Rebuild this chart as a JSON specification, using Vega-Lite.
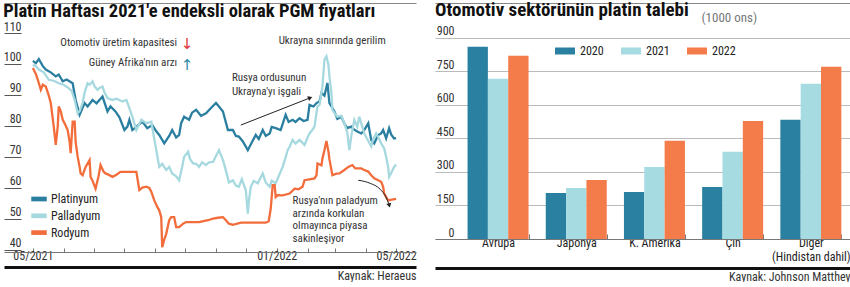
{
  "$schema": "https://vega.github.io/schema/vega-lite/v6.json",
  "padding": {"left": 3, "top": 0, "right": 0, "bottom": 0},
  "background": "white",
  "spacing": 18,
  "resolve": {"scale": {"color": "independent"}, "legend": {"color": "independent"}},
  "config": {
    "view": {"stroke": null},
    "font": "Roboto Condensed, Roboto, sans-serif"
  },
  "datasets": {
    "prices": [
      {"date":"2021-05-01","metal":"Platinyum","value":101.0},
      {"date":"2021-05-04","metal":"Platinyum","value":100.3},
      {"date":"2021-05-07","metal":"Platinyum","value":101.6},
      {"date":"2021-05-11","metal":"Platinyum","value":99.3},
      {"date":"2021-05-14","metal":"Platinyum","value":98.2},
      {"date":"2021-05-19","metal":"Platinyum","value":97.3},
      {"date":"2021-05-24","metal":"Platinyum","value":96.0},
      {"date":"2021-05-27","metal":"Platinyum","value":96.6},
      {"date":"2021-05-31","metal":"Platinyum","value":94.4},
      {"date":"2021-06-04","metal":"Platinyum","value":95.0},
      {"date":"2021-06-10","metal":"Platinyum","value":93.8},
      {"date":"2021-06-13","metal":"Platinyum","value":88.4},
      {"date":"2021-06-17","metal":"Platinyum","value":83.6},
      {"date":"2021-06-22","metal":"Platinyum","value":87.4},
      {"date":"2021-06-25","metal":"Platinyum","value":86.3},
      {"date":"2021-06-30","metal":"Platinyum","value":88.4},
      {"date":"2021-07-04","metal":"Platinyum","value":87.3},
      {"date":"2021-07-10","metal":"Platinyum","value":89.5},
      {"date":"2021-07-15","metal":"Platinyum","value":84.7},
      {"date":"2021-07-18","metal":"Platinyum","value":86.3},
      {"date":"2021-07-23","metal":"Platinyum","value":84.7},
      {"date":"2021-07-27","metal":"Platinyum","value":82.8},
      {"date":"2021-08-01","metal":"Platinyum","value":78.7},
      {"date":"2021-08-04","metal":"Platinyum","value":79.8},
      {"date":"2021-08-06","metal":"Platinyum","value":82.0},
      {"date":"2021-08-09","metal":"Platinyum","value":78.7},
      {"date":"2021-08-15","metal":"Platinyum","value":80.3},
      {"date":"2021-08-19","metal":"Platinyum","value":81.4},
      {"date":"2021-08-24","metal":"Platinyum","value":79.3},
      {"date":"2021-08-29","metal":"Platinyum","value":80.3},
      {"date":"2021-09-02","metal":"Platinyum","value":78.3},
      {"date":"2021-09-05","metal":"Platinyum","value":77.1},
      {"date":"2021-09-10","metal":"Platinyum","value":74.4},
      {"date":"2021-09-15","metal":"Platinyum","value":76.8},
      {"date":"2021-09-18","metal":"Platinyum","value":78.7},
      {"date":"2021-09-22","metal":"Platinyum","value":76.3},
      {"date":"2021-09-25","metal":"Platinyum","value":77.1},
      {"date":"2021-09-27","metal":"Platinyum","value":80.9},
      {"date":"2021-09-30","metal":"Platinyum","value":83.0},
      {"date":"2021-10-05","metal":"Platinyum","value":82.0},
      {"date":"2021-10-08","metal":"Platinyum","value":84.3},
      {"date":"2021-10-12","metal":"Platinyum","value":85.2},
      {"date":"2021-10-17","metal":"Platinyum","value":83.3},
      {"date":"2021-10-22","metal":"Platinyum","value":84.1},
      {"date":"2021-10-27","metal":"Platinyum","value":85.8},
      {"date":"2021-11-01","metal":"Platinyum","value":87.4},
      {"date":"2021-11-04","metal":"Platinyum","value":86.3},
      {"date":"2021-11-08","metal":"Platinyum","value":84.7},
      {"date":"2021-11-13","metal":"Platinyum","value":78.7},
      {"date":"2021-11-18","metal":"Platinyum","value":78.7},
      {"date":"2021-11-21","metal":"Platinyum","value":76.8},
      {"date":"2021-11-24","metal":"Platinyum","value":76.6},
      {"date":"2021-11-28","metal":"Platinyum","value":75.0},
      {"date":"2021-12-03","metal":"Platinyum","value":72.2},
      {"date":"2021-12-04","metal":"Platinyum","value":72.8},
      {"date":"2021-12-08","metal":"Platinyum","value":75.3},
      {"date":"2021-12-11","metal":"Platinyum","value":77.1},
      {"date":"2021-12-14","metal":"Platinyum","value":75.8},
      {"date":"2021-12-18","metal":"Platinyum","value":78.7},
      {"date":"2021-12-21","metal":"Platinyum","value":76.8},
      {"date":"2021-12-25","metal":"Platinyum","value":77.6},
      {"date":"2021-12-27","metal":"Platinyum","value":79.7},
      {"date":"2021-12-31","metal":"Platinyum","value":79.3},
      {"date":"2022-01-05","metal":"Platinyum","value":78.7},
      {"date":"2022-01-10","metal":"Platinyum","value":83.6},
      {"date":"2022-01-13","metal":"Platinyum","value":81.3},
      {"date":"2022-01-17","metal":"Platinyum","value":82.0},
      {"date":"2022-01-20","metal":"Platinyum","value":81.3},
      {"date":"2022-01-24","metal":"Platinyum","value":82.5},
      {"date":"2022-01-28","metal":"Platinyum","value":81.6},
      {"date":"2022-02-01","metal":"Platinyum","value":82.0},
      {"date":"2022-02-03","metal":"Platinyum","value":86.8},
      {"date":"2022-02-07","metal":"Platinyum","value":86.3},
      {"date":"2022-02-10","metal":"Platinyum","value":87.4},
      {"date":"2022-02-13","metal":"Platinyum","value":87.9},
      {"date":"2022-02-15","metal":"Platinyum","value":90.6},
      {"date":"2022-02-18","metal":"Platinyum","value":89.8},
      {"date":"2022-02-21","metal":"Platinyum","value":93.9},
      {"date":"2022-02-23","metal":"Platinyum","value":87.4},
      {"date":"2022-02-26","metal":"Platinyum","value":85.8},
      {"date":"2022-02-28","metal":"Platinyum","value":84.7},
      {"date":"2022-03-03","metal":"Platinyum","value":82.3},
      {"date":"2022-03-07","metal":"Platinyum","value":83.0},
      {"date":"2022-03-10","metal":"Platinyum","value":80.8},
      {"date":"2022-03-13","metal":"Platinyum","value":79.3},
      {"date":"2022-03-17","metal":"Platinyum","value":79.8},
      {"date":"2022-03-20","metal":"Platinyum","value":78.8},
      {"date":"2022-03-23","metal":"Platinyum","value":78.2},
      {"date":"2022-03-27","metal":"Platinyum","value":77.6},
      {"date":"2022-03-30","metal":"Platinyum","value":78.7},
      {"date":"2022-04-03","metal":"Platinyum","value":80.9},
      {"date":"2022-04-06","metal":"Platinyum","value":75.5},
      {"date":"2022-04-09","metal":"Platinyum","value":74.4},
      {"date":"2022-04-13","metal":"Platinyum","value":77.1},
      {"date":"2022-04-16","metal":"Platinyum","value":77.6},
      {"date":"2022-04-18","metal":"Platinyum","value":78.7},
      {"date":"2022-04-21","metal":"Platinyum","value":76.0},
      {"date":"2022-04-24","metal":"Platinyum","value":79.3},
      {"date":"2022-04-26","metal":"Platinyum","value":77.3},
      {"date":"2022-04-29","metal":"Platinyum","value":76.0},
      {"date":"2022-05-01","metal":"Platinyum","value":76.1},
      {"date":"2021-05-01","metal":"Palladyum","value":99.8},
      {"date":"2021-05-04","metal":"Palladyum","value":99.3},
      {"date":"2021-05-07","metal":"Palladyum","value":98.2},
      {"date":"2021-05-12","metal":"Palladyum","value":97.3},
      {"date":"2021-05-17","metal":"Palladyum","value":94.9},
      {"date":"2021-05-22","metal":"Palladyum","value":94.6},
      {"date":"2021-05-27","metal":"Palladyum","value":93.8},
      {"date":"2021-06-01","metal":"Palladyum","value":93.3},
      {"date":"2021-06-06","metal":"Palladyum","value":92.2},
      {"date":"2021-06-09","metal":"Palladyum","value":91.3},
      {"date":"2021-06-12","metal":"Palladyum","value":88.4},
      {"date":"2021-06-15","metal":"Palladyum","value":84.1},
      {"date":"2021-06-17","metal":"Palladyum","value":84.8},
      {"date":"2021-06-20","metal":"Palladyum","value":87.4},
      {"date":"2021-06-22","metal":"Palladyum","value":90.8},
      {"date":"2021-06-25","metal":"Palladyum","value":93.8},
      {"date":"2021-06-27","metal":"Palladyum","value":93.3},
      {"date":"2021-06-30","metal":"Palladyum","value":94.4},
      {"date":"2021-07-02","metal":"Palladyum","value":92.8},
      {"date":"2021-07-05","metal":"Palladyum","value":91.7},
      {"date":"2021-07-07","metal":"Palladyum","value":92.3},
      {"date":"2021-07-10","metal":"Palladyum","value":92.7},
      {"date":"2021-07-12","metal":"Palladyum","value":90.8},
      {"date":"2021-07-15","metal":"Palladyum","value":89.0},
      {"date":"2021-07-20","metal":"Palladyum","value":88.4},
      {"date":"2021-07-24","metal":"Palladyum","value":88.8},
      {"date":"2021-07-30","metal":"Palladyum","value":87.9},
      {"date":"2021-08-03","metal":"Palladyum","value":88.4},
      {"date":"2021-08-09","metal":"Palladyum","value":83.0},
      {"date":"2021-08-13","metal":"Palladyum","value":78.7},
      {"date":"2021-08-18","metal":"Palladyum","value":82.0},
      {"date":"2021-08-23","metal":"Palladyum","value":80.9},
      {"date":"2021-08-28","metal":"Palladyum","value":81.4},
      {"date":"2021-08-31","metal":"Palladyum","value":75.8},
      {"date":"2021-09-02","metal":"Palladyum","value":72.2},
      {"date":"2021-09-05","metal":"Palladyum","value":66.8},
      {"date":"2021-09-08","metal":"Palladyum","value":67.8},
      {"date":"2021-09-12","metal":"Palladyum","value":65.8},
      {"date":"2021-09-15","metal":"Palladyum","value":66.8},
      {"date":"2021-09-18","metal":"Palladyum","value":64.7},
      {"date":"2021-09-22","metal":"Palladyum","value":63.8},
      {"date":"2021-09-25","metal":"Palladyum","value":62.5},
      {"date":"2021-09-28","metal":"Palladyum","value":66.8},
      {"date":"2021-09-30","metal":"Palladyum","value":70.1},
      {"date":"2021-10-04","metal":"Palladyum","value":71.7},
      {"date":"2021-10-06","metal":"Palladyum","value":69.3},
      {"date":"2021-10-09","metal":"Palladyum","value":67.9},
      {"date":"2021-10-12","metal":"Palladyum","value":67.8},
      {"date":"2021-10-15","metal":"Palladyum","value":66.8},
      {"date":"2021-10-18","metal":"Palladyum","value":68.3},
      {"date":"2021-10-22","metal":"Palladyum","value":67.4},
      {"date":"2021-10-25","metal":"Palladyum","value":68.3},
      {"date":"2021-10-29","metal":"Palladyum","value":68.4},
      {"date":"2021-11-01","metal":"Palladyum","value":70.3},
      {"date":"2021-11-04","metal":"Palladyum","value":72.2},
      {"date":"2021-11-08","metal":"Palladyum","value":69.0},
      {"date":"2021-11-10","metal":"Palladyum","value":66.8},
      {"date":"2021-11-14","metal":"Palladyum","value":61.8},
      {"date":"2021-11-18","metal":"Palladyum","value":62.5},
      {"date":"2021-11-21","metal":"Palladyum","value":60.8},
      {"date":"2021-11-24","metal":"Palladyum","value":60.4},
      {"date":"2021-11-27","metal":"Palladyum","value":62.8},
      {"date":"2021-12-01","metal":"Palladyum","value":59.3},
      {"date":"2021-12-03","metal":"Palladyum","value":51.7},
      {"date":"2021-12-04","metal":"Palladyum","value":55.8},
      {"date":"2021-12-06","metal":"Palladyum","value":60.4},
      {"date":"2021-12-09","metal":"Palladyum","value":62.3},
      {"date":"2021-12-13","metal":"Palladyum","value":61.5},
      {"date":"2021-12-15","metal":"Palladyum","value":62.8},
      {"date":"2021-12-18","metal":"Palladyum","value":64.7},
      {"date":"2021-12-21","metal":"Palladyum","value":61.8},
      {"date":"2021-12-25","metal":"Palladyum","value":60.4},
      {"date":"2021-12-27","metal":"Palladyum","value":62.3},
      {"date":"2021-12-31","metal":"Palladyum","value":61.5},
      {"date":"2022-01-03","metal":"Palladyum","value":63.8},
      {"date":"2022-01-07","metal":"Palladyum","value":66.8},
      {"date":"2022-01-09","metal":"Palladyum","value":68.8},
      {"date":"2022-01-12","metal":"Palladyum","value":72.2},
      {"date":"2022-01-14","metal":"Palladyum","value":73.3},
      {"date":"2022-01-17","metal":"Palladyum","value":75.5},
      {"date":"2022-01-20","metal":"Palladyum","value":74.3},
      {"date":"2022-01-24","metal":"Palladyum","value":75.5},
      {"date":"2022-01-29","metal":"Palladyum","value":73.9},
      {"date":"2022-02-01","metal":"Palladyum","value":76.3},
      {"date":"2022-02-03","metal":"Palladyum","value":77.6},
      {"date":"2022-02-06","metal":"Palladyum","value":78.8},
      {"date":"2022-02-08","metal":"Palladyum","value":79.8},
      {"date":"2022-02-11","metal":"Palladyum","value":86.3},
      {"date":"2022-02-13","metal":"Palladyum","value":86.8},
      {"date":"2022-02-16","metal":"Palladyum","value":92.8},
      {"date":"2022-02-18","metal":"Palladyum","value":101.4},
      {"date":"2022-02-20","metal":"Palladyum","value":102.5},
      {"date":"2022-02-22","metal":"Palladyum","value":99.8},
      {"date":"2022-02-23","metal":"Palladyum","value":96.0},
      {"date":"2022-02-25","metal":"Palladyum","value":90.8},
      {"date":"2022-02-26","metal":"Palladyum","value":85.2},
      {"date":"2022-03-01","metal":"Palladyum","value":83.8},
      {"date":"2022-03-03","metal":"Palladyum","value":83.0},
      {"date":"2022-03-07","metal":"Palladyum","value":83.3},
      {"date":"2022-03-10","metal":"Palladyum","value":80.9},
      {"date":"2022-03-13","metal":"Palladyum","value":77.8},
      {"date":"2022-03-15","metal":"Palladyum","value":72.2},
      {"date":"2022-03-17","metal":"Palladyum","value":76.8},
      {"date":"2022-03-20","metal":"Palladyum","value":82.0},
      {"date":"2022-03-23","metal":"Palladyum","value":79.8},
      {"date":"2022-03-25","metal":"Palladyum","value":83.0},
      {"date":"2022-03-28","metal":"Palladyum","value":79.8},
      {"date":"2022-03-30","metal":"Palladyum","value":77.6},
      {"date":"2022-04-02","metal":"Palladyum","value":75.8},
      {"date":"2022-04-06","metal":"Palladyum","value":73.4},
      {"date":"2022-04-08","metal":"Palladyum","value":75.8},
      {"date":"2022-04-11","metal":"Palladyum","value":77.6},
      {"date":"2022-04-14","metal":"Palladyum","value":75.8},
      {"date":"2022-04-16","metal":"Palladyum","value":74.4},
      {"date":"2022-04-19","metal":"Palladyum","value":72.8},
      {"date":"2022-04-21","metal":"Palladyum","value":70.1},
      {"date":"2022-04-23","metal":"Palladyum","value":66.8},
      {"date":"2022-04-24","metal":"Palladyum","value":63.6},
      {"date":"2022-04-26","metal":"Palladyum","value":64.8},
      {"date":"2022-04-29","metal":"Palladyum","value":66.8},
      {"date":"2022-05-01","metal":"Palladyum","value":67.6},
      {"date":"2021-05-01","metal":"Rodyum","value":98.7},
      {"date":"2021-05-04","metal":"Rodyum","value":96.8},
      {"date":"2021-05-06","metal":"Rodyum","value":94.9},
      {"date":"2021-05-09","metal":"Rodyum","value":91.7},
      {"date":"2021-05-11","metal":"Rodyum","value":93.3},
      {"date":"2021-05-14","metal":"Rodyum","value":92.7},
      {"date":"2021-05-17","metal":"Rodyum","value":89.8},
      {"date":"2021-05-19","metal":"Rodyum","value":87.4},
      {"date":"2021-05-22","metal":"Rodyum","value":79.8},
      {"date":"2021-05-24","metal":"Rodyum","value":73.9},
      {"date":"2021-05-26","metal":"Rodyum","value":79.8},
      {"date":"2021-05-27","metal":"Rodyum","value":86.3},
      {"date":"2021-05-29","metal":"Rodyum","value":84.8},
      {"date":"2021-05-31","metal":"Rodyum","value":82.0},
      {"date":"2021-06-02","metal":"Rodyum","value":80.8},
      {"date":"2021-06-05","metal":"Rodyum","value":78.7},
      {"date":"2021-06-07","metal":"Rodyum","value":74.8},
      {"date":"2021-06-08","metal":"Rodyum","value":71.2},
      {"date":"2021-06-10","metal":"Rodyum","value":81.4},
      {"date":"2021-06-12","metal":"Rodyum","value":81.4},
      {"date":"2021-06-13","metal":"Rodyum","value":74.8},
      {"date":"2021-06-15","metal":"Rodyum","value":70.1},
      {"date":"2021-06-17","metal":"Rodyum","value":66.8},
      {"date":"2021-06-18","metal":"Rodyum","value":64.7},
      {"date":"2021-06-20","metal":"Rodyum","value":64.1},
      {"date":"2021-06-23","metal":"Rodyum","value":66.8},
      {"date":"2021-06-27","metal":"Rodyum","value":69.0},
      {"date":"2021-06-28","metal":"Rodyum","value":63.6},
      {"date":"2021-06-30","metal":"Rodyum","value":62.3},
      {"date":"2021-07-03","metal":"Rodyum","value":59.8},
      {"date":"2021-07-06","metal":"Rodyum","value":63.8},
      {"date":"2021-07-08","metal":"Rodyum","value":67.4},
      {"date":"2021-07-11","metal":"Rodyum","value":65.3},
      {"date":"2021-07-13","metal":"Rodyum","value":64.7},
      {"date":"2021-07-16","metal":"Rodyum","value":64.3},
      {"date":"2021-07-20","metal":"Rodyum","value":63.6},
      {"date":"2021-07-24","metal":"Rodyum","value":64.3},
      {"date":"2021-07-28","metal":"Rodyum","value":65.2},
      {"date":"2021-08-03","metal":"Rodyum","value":65.2},
      {"date":"2021-08-08","metal":"Rodyum","value":65.2},
      {"date":"2021-08-13","metal":"Rodyum","value":65.2},
      {"date":"2021-08-16","metal":"Rodyum","value":59.3},
      {"date":"2021-08-19","metal":"Rodyum","value":60.1},
      {"date":"2021-08-23","metal":"Rodyum","value":60.4},
      {"date":"2021-08-26","metal":"Rodyum","value":60.0},
      {"date":"2021-08-28","metal":"Rodyum","value":58.8},
      {"date":"2021-08-31","metal":"Rodyum","value":56.0},
      {"date":"2021-09-03","metal":"Rodyum","value":53.9},
      {"date":"2021-09-05","metal":"Rodyum","value":52.8},
      {"date":"2021-09-07","metal":"Rodyum","value":50.6},
      {"date":"2021-09-08","metal":"Rodyum","value":40.9},
      {"date":"2021-09-10","metal":"Rodyum","value":43.3},
      {"date":"2021-09-12","metal":"Rodyum","value":45.2},
      {"date":"2021-09-15","metal":"Rodyum","value":49.6},
      {"date":"2021-09-17","metal":"Rodyum","value":50.6},
      {"date":"2021-09-20","metal":"Rodyum","value":50.6},
      {"date":"2021-09-22","metal":"Rodyum","value":47.4},
      {"date":"2021-09-25","metal":"Rodyum","value":47.4},
      {"date":"2021-09-29","metal":"Rodyum","value":48.5},
      {"date":"2021-10-02","metal":"Rodyum","value":49.0},
      {"date":"2021-10-10","metal":"Rodyum","value":49.0},
      {"date":"2021-10-15","metal":"Rodyum","value":49.0},
      {"date":"2021-10-24","metal":"Rodyum","value":49.6},
      {"date":"2021-10-29","metal":"Rodyum","value":50.1},
      {"date":"2021-11-03","metal":"Rodyum","value":50.4},
      {"date":"2021-11-08","metal":"Rodyum","value":50.6},
      {"date":"2021-11-11","metal":"Rodyum","value":49.6},
      {"date":"2021-11-14","metal":"Rodyum","value":48.5},
      {"date":"2021-11-18","metal":"Rodyum","value":48.1},
      {"date":"2021-11-26","metal":"Rodyum","value":48.8},
      {"date":"2021-12-09","metal":"Rodyum","value":48.8},
      {"date":"2021-12-21","metal":"Rodyum","value":48.8},
      {"date":"2021-12-24","metal":"Rodyum","value":49.3},
      {"date":"2021-12-26","metal":"Rodyum","value":53.3},
      {"date":"2021-12-28","metal":"Rodyum","value":60.9},
      {"date":"2021-12-30","metal":"Rodyum","value":60.9},
      {"date":"2021-12-31","metal":"Rodyum","value":57.1},
      {"date":"2022-01-02","metal":"Rodyum","value":57.7},
      {"date":"2022-01-07","metal":"Rodyum","value":57.6},
      {"date":"2022-01-14","metal":"Rodyum","value":58.2},
      {"date":"2022-01-19","metal":"Rodyum","value":59.8},
      {"date":"2022-01-23","metal":"Rodyum","value":59.6},
      {"date":"2022-01-27","metal":"Rodyum","value":60.4},
      {"date":"2022-01-29","metal":"Rodyum","value":62.5},
      {"date":"2022-02-03","metal":"Rodyum","value":62.8},
      {"date":"2022-02-08","metal":"Rodyum","value":63.1},
      {"date":"2022-02-10","metal":"Rodyum","value":64.1},
      {"date":"2022-02-11","metal":"Rodyum","value":67.9},
      {"date":"2022-02-15","metal":"Rodyum","value":67.3},
      {"date":"2022-02-16","metal":"Rodyum","value":69.5},
      {"date":"2022-02-18","metal":"Rodyum","value":72.2},
      {"date":"2022-02-20","metal":"Rodyum","value":75.2},
      {"date":"2022-02-22","metal":"Rodyum","value":71.8},
      {"date":"2022-02-23","metal":"Rodyum","value":69.3},
      {"date":"2022-02-25","metal":"Rodyum","value":65.8},
      {"date":"2022-02-26","metal":"Rodyum","value":64.1},
      {"date":"2022-03-02","metal":"Rodyum","value":64.6},
      {"date":"2022-03-05","metal":"Rodyum","value":64.7},
      {"date":"2022-03-10","metal":"Rodyum","value":65.8},
      {"date":"2022-03-14","metal":"Rodyum","value":66.8},
      {"date":"2022-03-18","metal":"Rodyum","value":67.4},
      {"date":"2022-03-21","metal":"Rodyum","value":66.3},
      {"date":"2022-03-27","metal":"Rodyum","value":66.3},
      {"date":"2022-03-30","metal":"Rodyum","value":65.8},
      {"date":"2022-04-03","metal":"Rodyum","value":65.3},
      {"date":"2022-04-06","metal":"Rodyum","value":64.1},
      {"date":"2022-04-09","metal":"Rodyum","value":63.1},
      {"date":"2022-04-13","metal":"Rodyum","value":62.5},
      {"date":"2022-04-16","metal":"Rodyum","value":62.0},
      {"date":"2022-04-18","metal":"Rodyum","value":60.4},
      {"date":"2022-04-19","metal":"Rodyum","value":58.2},
      {"date":"2022-04-23","metal":"Rodyum","value":56.0},
      {"date":"2022-04-28","metal":"Rodyum","value":56.3},
      {"date":"2022-05-01","metal":"Rodyum","value":56.5}
    ],
    "notesLeft": [
      {"date":"2022-01-03","value":107.3,"label":"Ukrayna sınırında gerilim"},
      {"date":"2021-11-17","value":95.5,"label":"Rusya ordusunun"},
      {"date":"2021-11-17","value":91.1,"label":"Ukrayna'yı işgali"},
      {"date":"2022-01-17","value":55.8,"label":"Rusya'nın paladyum"},
      {"date":"2022-01-17","value":51.7,"label":"arzında korkulan"},
      {"date":"2022-01-17","value":47.6,"label":"olmayınca piyasa"},
      {"date":"2022-01-17","value":43.6,"label":"sakinleşiyor"}
    ],
    "notesRight": [
      {"date":"2021-09-23","value":106.8,"label":"Otomotiv üretim kapasitesi"},
      {"date":"2021-09-23","value":100.3,"label":"Güney Afrika'nın arzı"}
    ],
    "glyphs": [
      {"date":"2021-10-03","value":106.3,"label":"↓"},
      {"date":"2021-10-03","value":99.8,"label":"↑"}
    ],
    "arrowLine": [
      {"date":"2021-11-26","value":80.3,"date2":"2022-02-03","value2":89.0}
    ],
    "curve": [
      {"date":"2022-03-24","value":62.5},
      {"date":"2022-04-05","value":61.5},
      {"date":"2022-04-15","value":59.6},
      {"date":"2022-04-21","value":57.0},
      {"date":"2022-04-24","value":54.6}
    ],
    "demand": [
      {"region":"Avrupa","year":"2020","value":860},
      {"region":"Avrupa","year":"2021","value":716},
      {"region":"Avrupa","year":"2022","value":819},
      {"region":"Japonya","year":"2020","value":206},
      {"region":"Japonya","year":"2021","value":228},
      {"region":"Japonya","year":"2022","value":264},
      {"region":"K. Amerika","year":"2020","value":210},
      {"region":"K. Amerika","year":"2021","value":322},
      {"region":"K. Amerika","year":"2022","value":439},
      {"region":"Çin","year":"2020","value":233},
      {"region":"Çin","year":"2021","value":390},
      {"region":"Çin","year":"2022","value":528},
      {"region":"Diğer (Hindistan dahil)","year":"2020","value":533},
      {"region":"Diğer (Hindistan dahil)","year":"2021","value":694},
      {"region":"Diğer (Hindistan dahil)","year":"2022","value":770}
    ]
  },
  "hconcat": [
    {
      "width": 412,
      "height": 219,
      "title": {"text": "Platin Haftası 2021'e endeksli olarak PGM fiyatları", "anchor": "start", "fontSize": 18.5, "fontWeight": "bold", "color": "#111", "offset": -32.2, "baseline": "alphabetic"},
      "resolve": {"axis": {"x": "independent", "y": "independent"}},
      "layer": [
        {
          "data": {"name": "prices"},
          "mark": {"type": "line", "strokeWidth": 2.3},
          "encoding": {
            "x": {"field": "date", "type": "temporal",
              "scale": {"domain": [{"year": 2021, "month": 4, "date": 2}, {"year": 2022, "month": 5, "date": 21}]},
              "axis": {"orient": "bottom", "title": null, "tickCount": {"interval": "month", "step": 1},
                "labelExpr": "(month(datum.value) == 4 || month(datum.value) == 0) ? timeFormat(datum.value, '%m/%Y') : ''",
                "grid": false, "domainColor": "#777", "tickColor": "#777", "tickSize": -4, "labelPadding": 2,
                "labelFontSize": 12, "labelColor": "#333", "labelOverlap": false, "labelFlush": false}},
            "y": {"field": "value", "type": "quantitative",
              "scale": {"domain": [39.35, 110], "nice": false, "zero": false},
              "axis": {"orient": "left", "title": null, "values": [40, 50, 60, 70, 80, 90, 100, 110], "offset": -17,
                "tickSize": 17, "tickColor": "#555", "domain": false, "grid": false, "labelAlign": "right",
                "labelPadding": -17, "labelBaseline": "alphabetic", "labelOffset": -3, "labelFontSize": 12, "labelColor": "#333"}},
            "color": {"field": "metal", "type": "nominal",
              "scale": {"domain": ["Platinyum", "Palladyum", "Rodyum"], "range": ["#2a7fa0", "#a6d9df", "#f26d3b"]},
              "legend": {"orient": "none", "legendX": 27, "legendY": 158, "title": null,
                "symbolType": "M-1,-0.1L1,-0.1L1,0.1L-1,0.1Z", "symbolSize": 144,
                "symbolStrokeWidth": 3.5, "labelFontSize": 12, "labelColor": "#222",
                "labelOffset": 4, "rowPadding": 0.8, "padding": 0}}
          }
        },
        {
          "data": {"name": "notesLeft"},
          "mark": {"type": "text", "align": "left", "baseline": "middle", "fontSize": 11, "color": "#333"},
          "encoding": {
            "x": {"field": "date", "type": "temporal",
              "axis": {"orient": "bottom", "offset": 15, "labels": false, "ticks": false, "grid": false,
                "domainColor": "#111", "domainWidth": 3, "title": "Kaynak: Heraeus", "titleAnchor": "end",
                "titleFontSize": 12, "titleFontWeight": "normal", "titleColor": "#333", "titlePadding": 3}},
            "y": {"field": "value", "type": "quantitative", "axis": null},
            "text": {"field": "label"}
          }
        },
        {
          "data": {"name": "notesRight"},
          "mark": {"type": "text", "align": "right", "baseline": "middle", "fontSize": 11, "color": "#333"},
          "encoding": {
            "x": {"field": "date", "type": "temporal", "axis": null},
            "y": {"field": "value", "type": "quantitative", "axis": null},
            "text": {"field": "label"}
          }
        },
        {
          "data": {"name": "glyphs"},
          "transform": [{"filter": "datum.label == '↓'"}],
          "mark": {"type": "text", "align": "center", "baseline": "middle", "fontSize": 15, "color": "#e3333b", "font": "DejaVu Sans"},
          "encoding": {
            "x": {"field": "date", "type": "temporal", "axis": null},
            "y": {"field": "value", "type": "quantitative", "axis": null},
            "text": {"field": "label"}
          }
        },
        {
          "data": {"name": "glyphs"},
          "transform": [{"filter": "datum.label == '↑'"}],
          "mark": {"type": "text", "align": "center", "baseline": "middle", "fontSize": 15, "color": "#2a8aa8", "font": "DejaVu Sans"},
          "encoding": {
            "x": {"field": "date", "type": "temporal", "axis": null},
            "y": {"field": "value", "type": "quantitative", "axis": null},
            "text": {"field": "label"}
          }
        },
        {
          "data": {"name": "arrowLine"},
          "mark": {"type": "rule", "color": "#222", "strokeWidth": 1},
          "encoding": {
            "x": {"field": "date", "type": "temporal", "axis": null},
            "x2": {"field": "date2"},
            "y": {"field": "value", "type": "quantitative", "axis": null},
            "y2": {"field": "value2"}
          }
        },
        {
          "data": {"name": "arrowLine"},
          "mark": {"type": "point", "shape": "triangle", "angle": 68, "size": 26, "filled": true, "color": "#222", "opacity": 1},
          "encoding": {
            "x": {"field": "date2", "type": "temporal", "axis": null},
            "y": {"field": "value2", "type": "quantitative", "axis": null}
          }
        },
        {
          "data": {"name": "curve"},
          "mark": {"type": "line", "interpolate": "monotone", "color": "#222", "strokeWidth": 1},
          "encoding": {
            "x": {"field": "date", "type": "temporal",
              "axis": {"orient": "top", "offset": 30, "labels": false, "ticks": false, "grid": false,
                "domain": true, "domainColor": "#888", "domainWidth": 1, "title": null}},
            "y": {"field": "value", "type": "quantitative", "axis": null}
          }
        },
        {
          "data": {"name": "curve"},
          "transform": [{"filter": "datum.value < 55"}],
          "mark": {"type": "point", "shape": "triangle", "angle": 166, "size": 26, "filled": true, "color": "#222", "opacity": 1},
          "encoding": {
            "x": {"field": "date", "type": "temporal", "axis": null},
            "y": {"field": "value", "type": "quantitative", "axis": null}
          }
        }
      ]
    },
    {
      "width": 415,
      "height": 206,
      "title": {"text": "Otomotiv sektörünün platin talebi", "anchor": "start", "fontSize": 19, "fontWeight": "bold", "color": "#111", "offset": -31.5, "baseline": "alphabetic"},
      "data": {"name": "demand"},
      "resolve": {"axis": {"x": "independent", "y": "independent"}},
      "layer": [
        {
          "mark": {"type": "bar"},
          "encoding": {
            "x": {"field": "region", "type": "nominal", "sort": null,
              "scale": {"paddingInner": 0.22, "paddingOuter": 0.2635, "align": 0.79},
              "axis": {"orient": "bottom", "title": null, "labelAngle": 0, "tickBand": "extent", "tickSize": -5,
                "tickColor": "#777", "domainColor": "#777", "labelPadding": 3, "labelFontSize": 12, "labelColor": "#222",
                "labelBaseline": "top", "labelLineHeight": 14,
                "labelExpr": "datum.label == 'Diğer (Hindistan dahil)' ? ['Diğer', '(Hindistan dahil)'] : datum.label"}},
            "xOffset": {"field": "year", "type": "nominal"},
            "y": {"field": "value", "type": "quantitative",
              "scale": {"domain": [0, 921], "nice": false},
              "axis": {"orient": "left", "values": [0, 150, 300, 450, 600, 750, 900], "ticks": false, "tickSize": 0,
                "domain": false, "grid": true, "gridColor": "#bbb", "gridWidth": 1, "labelAlign": "right",
                "labelPadding": -19, "labelBaseline": "alphabetic", "labelOffset": -3, "labelFontSize": 12, "labelColor": "#333",
                "title": "(1000 ons)", "titleAngle": 0, "titleX": 266, "titleY": -12, "titleAlign": "left",
                "titleBaseline": "alphabetic", "titleFontSize": 13, "titleFontWeight": "normal", "titleColor": "#777"}},
            "color": {"field": "year", "type": "nominal",
              "scale": {"domain": ["2020", "2021", "2022"], "range": ["#2a80a1", "#a5dbe1", "#f47b4a"]},
              "legend": {"orient": "none", "direction": "horizontal", "legendX": 120, "legendY": 8, "title": null,
                "symbolType": "M-1,-0.35L1,-0.35L1,0.35L-1,0.35Z", "symbolSize": 400, "symbolStrokeWidth": 0,
                "labelFontSize": 12, "labelColor": "#222", "labelOffset": 5, "columnPadding": 17, "padding": 0}}
          }
        },
        {
          "mark": {"type": "tick", "opacity": 0},
          "encoding": {
            "x": {"field": "region", "type": "nominal", "sort": null,
              "axis": {"orient": "bottom", "offset": 29, "labels": false, "ticks": false, "grid": false,
                "domainColor": "#111", "domainWidth": 3, "title": "Kaynak: Johnson Matthey", "titleAnchor": "end",
                "titleFontSize": 12, "titleFontWeight": "normal", "titleColor": "#333", "titlePadding": 3}},
            "y": {"field": "value", "type": "quantitative", "axis": null}
          }
        },
        {
          "mark": {"type": "tick", "opacity": 0},
          "encoding": {
            "x": {"field": "region", "type": "nominal", "sort": null,
              "axis": {"orient": "top", "offset": 30, "labels": false, "ticks": false, "grid": false,
                "domain": true, "domainColor": "#888", "domainWidth": 1, "title": null}},
            "y": {"field": "value", "type": "quantitative", "axis": null}
          }
        }
      ]
    }
  ]
}
